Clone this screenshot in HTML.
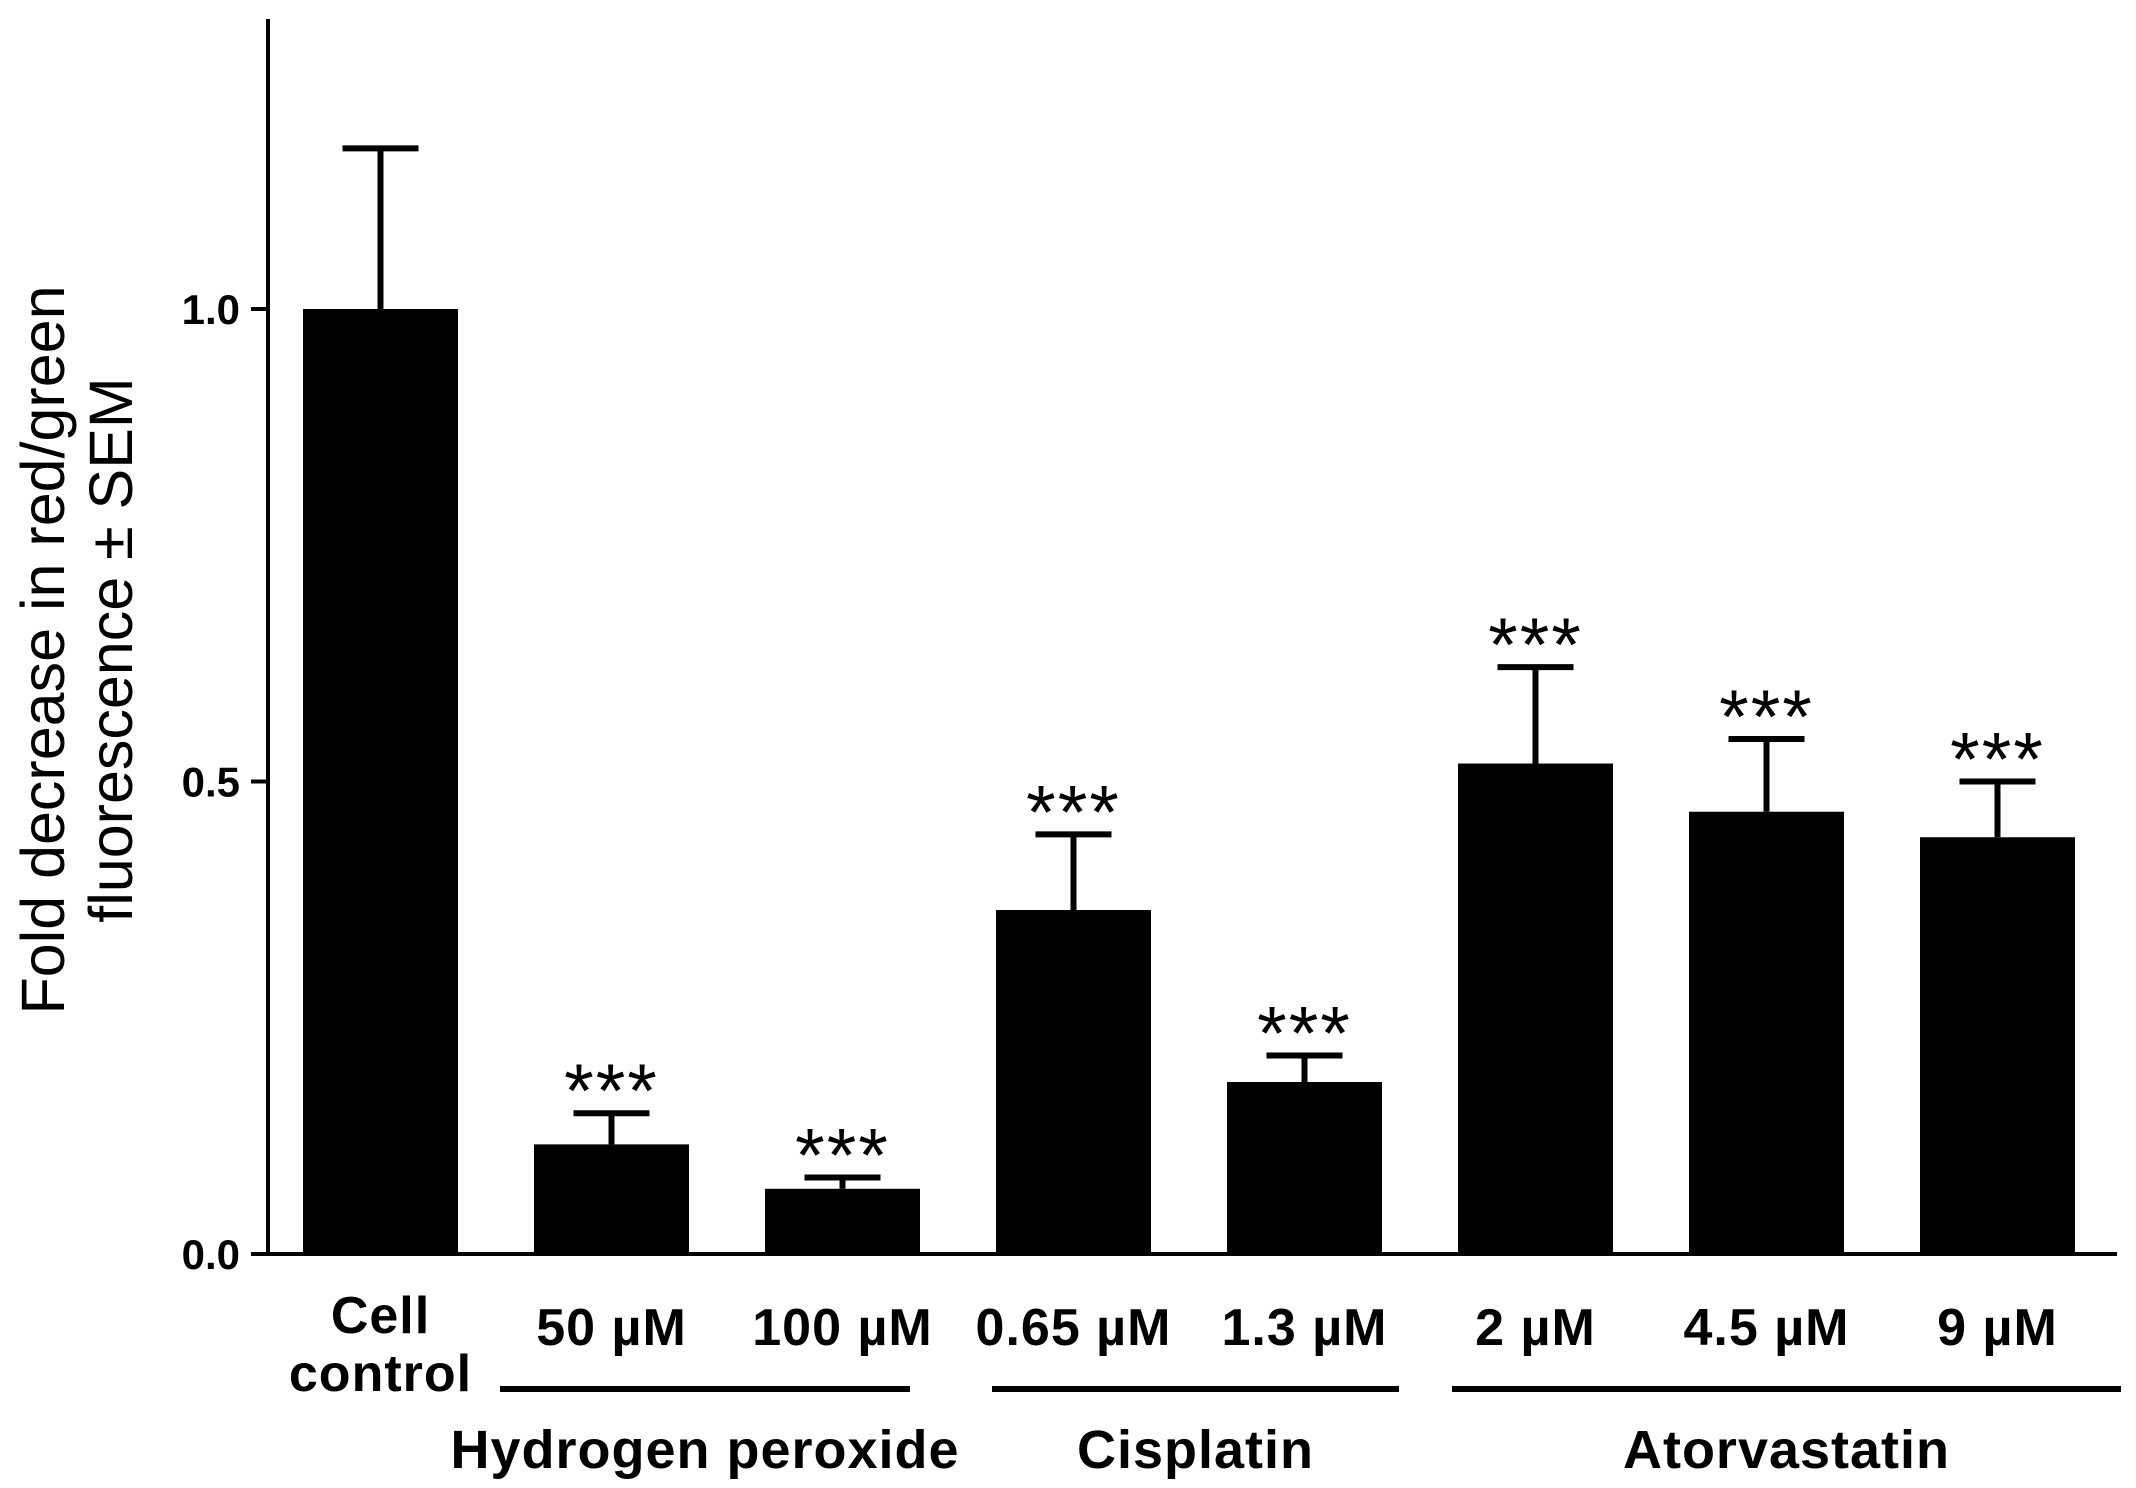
<!DOCTYPE html>
<html><head><meta charset="utf-8"><style>
html,body{margin:0;padding:0;background:#fff;}
svg{display:block;font-family:"Liberation Sans",Arial,sans-serif;}
</style></head><body>
<svg id="chart" width="2136" height="1488" viewBox="0 0 2136 1488">
<g id="ytitle">
<text transform="translate(64,650) rotate(-90)" text-anchor="middle" font-size="61">Fold decrease in red/green</text>
<text transform="translate(132,650) rotate(-90)" text-anchor="middle" font-size="61">fluorescence ± SEM</text>
</g>
<g id="bars"></g>
<g id="axes"></g>
</svg>
<script>
const categories=["Cell\ncontrol","50 µM","100 µM","0.65 µM","1.3 µM","2 µM","4.5 µM","9 µM"];
const values=[1.0,0.116,0.069,0.364,0.182,0.519,0.468,0.441];
const errors=[0.17,0.033,0.012,0.08,0.028,0.102,0.077,0.059];
const stars=["","***","***","***","***","***","***","***"];
const yTicks=[0.0,0.5,1.0];
const yTickLabels=["0.0","0.5","1.0"];
const groups=["Hydrogen peroxide","Cisplatin","Atorvastatin"];

const NS="http://www.w3.org/2000/svg";
const y0=1254, yScale=945;
const y=v=>y0-v*yScale;
const x0=303, step=231, bw=155;
const x=i=>x0+i*step;
const bracketA=[500,992,1452], bracketB=[910,1399,2121];
function mk(tag,attrs,parent){const e=document.createElementNS(NS,tag);for(const k in attrs)e.setAttribute(k,attrs[k]);parent.appendChild(e);return e;}
const gb=document.getElementById('bars'), ga=document.getElementById('axes');
categories.forEach((c,i)=>{
  const cx=x(i)+bw/2;
  const r=mk('rect',{x:x(i),y:y(values[i]),width:bw,height:y0-y(values[i]),fill:'#000'},gb);
  
  
  const top=y(values[i]+errors[i]);
  const eb=mk('path',{d:`M${cx},${y(values[i])}V${top}M${cx-38},${top}H${cx+38}`,stroke:'#000','stroke-width':6,fill:'none'},gb);
  
  
  if(stars[i]){
    const s=mk('text',{x:cx,y:top+4,'text-anchor':'middle','font-size':76,'letter-spacing':'2'},gb);
    s.textContent=stars[i];
    
    
  }
  const lines=c.split('\n');
  const t=mk('text',{x:cx,'text-anchor':'middle','font-size':52,'font-weight':'bold','letter-spacing':'1'},ga);
  
  
  if(lines.length===1){t.setAttribute('y',1345);t.textContent=c;}
  else lines.forEach((l,j)=>{const ts=mk('tspan',{x:cx,y:1333+j*58},t);ts.textContent=l;});
});
const ax=mk('path',{d:`M268,19V${y0}H2117`,stroke:'#000','stroke-width':4,fill:'none'},ga);


yTicks.forEach((v,i)=>{
  const tk=mk('line',{x1:251,x2:268,y1:y(v),y2:y(v),stroke:'#000','stroke-width':4},ga);
  
  
  const tl=mk('text',{x:240,y:y(v)+15,'text-anchor':'end','font-size':42,'font-weight':'bold'},ga);
  tl.textContent=yTickLabels[i];
  
  
});
groups.forEach((g,i)=>{
  const a=bracketA[i], b=bracketB[i];
  const ln=mk('line',{x1:a,x2:b,y1:1389,y2:1389,stroke:'#000','stroke-width':6},ga);
  
  
  const gt=mk('text',{x:(a+b)/2,y:1468,'text-anchor':'middle','font-size':54,'font-weight':'bold','letter-spacing':'1'},ga);
  gt.textContent=g;
  
  
});
</script>
</body></html>
